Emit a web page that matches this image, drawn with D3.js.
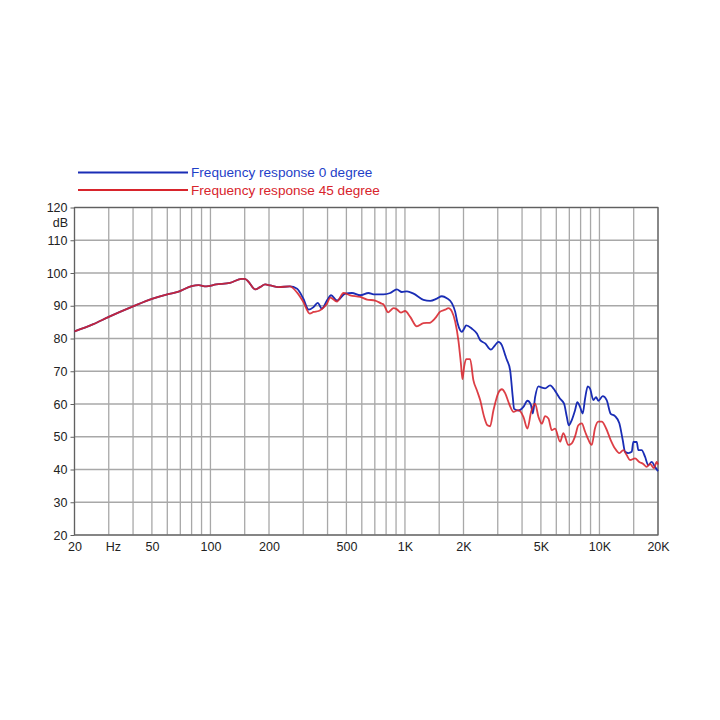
<!DOCTYPE html>
<html>
<head>
<meta charset="utf-8">
<script src="https://cdn.jsdelivr.net/npm/d3@7"></script>
<style>
  html, body { margin: 0; padding: 0; background: #fff; }
  svg { display: block; }
  text { font-family: "Liberation Sans", Arial, Helvetica, sans-serif; }
</style>
</head>
<body>
<svg id="chart" width="720" height="720"></svg>
<script>
// ---- Data ----
const seriesNames = ["Frequency response 0 degree", "Frequency response 45 degree"];

// Shared low-frequency part (both curves coincide)
const sharedFreq = [20, 25, 30, 40, 50, 60, 68.6, 80, 87, 95, 107, 126, 145, 150, 156, 170, 180, 191, 203, 224, 256];
const sharedDb   = [82.2, 84.4, 86.6, 89.8, 92.1, 93.5, 94.3, 96.0, 96.3, 95.9, 96.5, 97.0, 98.2, 98.2, 97.5, 95.0, 95.7, 96.5, 96.2, 95.7, 95.9];

// 0 degree (blue) above ~260 Hz
const blueFreq = [279, 300, 320, 339, 356, 374, 397, 417, 447, 493, 534, 589, 650, 690, 776, 840, 909, 964, 1024, 1107,
  1245, 1349, 1459, 1548, 1642, 1742, 1812, 1862, 1923, 1962, 2014, 2064, 2208, 2343, 2436, 2584, 2764, 2910, 3026, 3148,
  3274, 3342, 3474, 3585, 3641, 3829, 4064, 4262, 4439, 4543, 4669, 4855, 5055, 5257, 5573, 5914, 6276, 6577, 6793, 6953,
  7206, 7491, 7699, 7944, 8203, 8433, 8708, 8948, 9303, 9605, 9867, 10395, 10893, 11425, 12025, 12656, 13172, 13537, 14075, 14654,
  14931, 15548, 15850, 16487, 17149, 17838, 18563, 19302, 20000];
const blueDb = [95.2, 92.2, 88.8, 89.6, 90.9, 89.1, 91.6, 93.2, 91.6, 93.7, 93.9, 93.2, 93.9, 93.5, 93.5, 93.9, 95.0, 94.2, 94.4, 93.7,
  91.8, 91.5, 92.2, 92.9, 92.3, 90.8, 88.2, 84.8, 82.5, 82.0, 83.0, 84.0, 83.0, 81.5, 79.5, 78.5, 76.6, 78.0, 79.0, 78.0,
  75.0, 73.5, 70.3, 62.0, 58.5, 58.0, 59.1, 61.0, 59.8, 57.1, 62.1, 65.4, 65.0, 64.8, 65.7, 64.0, 61.6, 60.1, 56.1, 53.5,
  55.1, 58.1, 60.6, 59.1, 57.1, 61.6, 65.4, 64.7, 61.2, 62.1, 61.0, 62.4, 61.2, 57.0, 56.3, 54.1, 49.0, 45.4, 45.0, 45.4,
  48.4, 48.4, 45.9, 45.9, 43.9, 41.3, 42.3, 40.8, 39.5];

// 45 degree (red) above ~260 Hz
const redFreq = [279, 300, 324, 339, 360, 374, 397, 413, 447, 483, 523, 589, 638, 703, 761, 776, 820, 874, 909, 953,
  1002, 1064, 1151, 1245, 1337, 1431, 1517, 1611, 1674, 1742, 1812, 1884, 1939, 1976, 2014, 2064, 2163, 2248, 2343, 2436,
  2553, 2655, 2740, 2851, 3026, 3148, 3274, 3405, 3474, 3613, 3829, 4064, 4262, 4454, 4669, 4855, 5055, 5257, 5466, 5688,
  5914, 6276, 6524, 6920, 7206, 7491, 7790, 8108, 8433, 8770, 9124, 9490, 9867, 10270, 10810, 11425, 12025, 12656, 13270, 13806,
  14357, 15236, 16027, 16797, 17479, 18198, 19078, 19690, 20000];
const redDb = [94.0, 91.2, 87.6, 88.1, 88.4, 89.0, 90.6, 92.5, 91.3, 93.9, 93.2, 92.7, 91.9, 91.6, 90.6, 90.4, 88.0, 89.3, 88.9, 87.9,
  88.4, 86.6, 83.7, 84.7, 84.8, 86.2, 88.2, 88.8, 89.3, 88.3, 85.2, 79.3, 72.4, 67.6, 71.3, 73.7, 73.7, 67.3, 64.2, 61.2,
  56.1, 53.5, 53.2, 58.1, 63.5, 64.5, 63.3, 60.6, 59.3, 57.6, 58.1, 56.1, 52.5, 57.6, 60.1, 56.1, 54.0, 56.3, 55.6, 52.0,
  52.5, 48.5, 51.1, 47.5, 48.0, 50.1, 53.5, 54.1, 51.6, 49.1, 47.5, 52.6, 54.6, 54.6, 52.6, 49.0, 46.4, 45.0, 45.9, 44.4,
  42.9, 43.4, 42.3, 41.7, 40.8, 41.7, 40.4, 42.3, 41.5];

// Axes
const gridFreqs = [20, 30, 40, 50, 60, 70, 80, 90, 100, 150, 200, 300, 400, 500, 600, 700, 800, 900, 1000, 1500,
  2000, 3000, 4000, 5000, 6000, 7000, 8000, 9000, 10000, 15000, 20000];
const xTickValues = [20, 31.5, 50, 100, 200, 500, 1000, 2000, 5000, 10000, 20000];
const xTickLabels = ["20", "Hz", "50", "100", "200", "500", "1K", "2K", "5K", "10K", "20K"];
const yTicks = [20, 30, 40, 50, 60, 70, 80, 90, 100, 110, 120];
const yUnit = "dB";

// ---- Chart ----
(function () {
  const colors = ["#1a2db5", "#d8242c"];
  const textColors = ["#1f3fc8", "#d8242c"];
  const pL = 74.5, pR = 658, pT = 207.5, pB = 535;

  const svg = d3.select("#chart");
  const x = d3.scaleLog().domain([20, 20000]).range([pL, pR]);
  const y = d3.scaleLinear().domain([20, 120]).range([pB, pT]);

  // grid
  const g = svg.append("g");
  g.selectAll("line.v").data(gridFreqs).join("line").attr("class", "v")
    .attr("x1", d => x(d)).attr("x2", d => x(d))
    .attr("y1", pT).attr("y2", pB)
    .attr("stroke", "#a8a8a8").attr("stroke-width", 1.3);
  g.selectAll("line.h").data(yTicks).join("line").attr("class", "h")
    .attr("x1", pL).attr("x2", pR)
    .attr("y1", d => y(d)).attr("y2", d => y(d))
    .attr("stroke", "#a8a8a8").attr("stroke-width", 1.3);

  // frame
  svg.append("rect").attr("x", pL).attr("y", pT)
    .attr("width", pR - pL).attr("height", pB - pT)
    .attr("fill", "none").attr("stroke", "#606060").attr("stroke-width", 1.2);

  // y ticks
  const yAxis = d3.axisLeft(y).tickValues(yTicks).tickSize(4).tickPadding(3);
  const ya = svg.append("g").attr("transform", `translate(${pL},0)`).call(yAxis);
  ya.select(".domain").remove();
  ya.selectAll(".tick line").attr("stroke", "#606060");
  ya.selectAll(".tick text").attr("font-size", 12.5).attr("fill", "#222")
    .attr("font-family", "'Liberation Sans', Arial, sans-serif");
  svg.append("text").attr("x", 68).attr("y", 227).attr("text-anchor", "end")
    .attr("font-size", 12.5).attr("fill", "#222").text(yUnit);

  // x labels
  const xAxis = d3.axisBottom(x).tickValues(xTickValues).tickSize(0).tickPadding(7)
    .tickFormat((d, i) => xTickLabels[i]);
  const xa = svg.append("g").attr("transform", `translate(0,${pB})`).call(xAxis);
  xa.select(".domain").remove();
  xa.selectAll(".tick text").attr("font-size", 12.5).attr("fill", "#222")
    .attr("font-family", "'Liberation Sans', Arial, sans-serif");

  // curves
  const line = d3.line().x(d => x(d[0])).y(d => y(d[1])).curve(d3.curveMonotoneX);
  const shared = sharedFreq.map((f, i) => [f, sharedDb[i]]);
  const blue = shared.concat(blueFreq.map((f, i) => [f, blueDb[i]]));
  const red = shared.concat(redFreq.map((f, i) => [f, redDb[i]]));

  svg.append("path").datum(blue).attr("d", line)
    .attr("fill", "none").attr("stroke", colors[0]).attr("stroke-width", 1.8);
  svg.append("path").datum(red).attr("d", line)
    .attr("fill", "none").attr("stroke", colors[1]).attr("stroke-width", 1.8).attr("stroke-opacity", 0.88);

  // legend
  const legY = [172.5, 190];
  seriesNames.forEach((name, i) => {
    svg.append("line").attr("x1", 78).attr("x2", 188)
      .attr("y1", legY[i]).attr("y2", legY[i])
      .attr("stroke", colors[i]).attr("stroke-width", 2);
    svg.append("text").attr("x", 191).attr("y", legY[i] + 4.7)
      .attr("font-size", 13.6).attr("fill", textColors[i]).text(name);
  });
})();
</script>
</body>
</html>
